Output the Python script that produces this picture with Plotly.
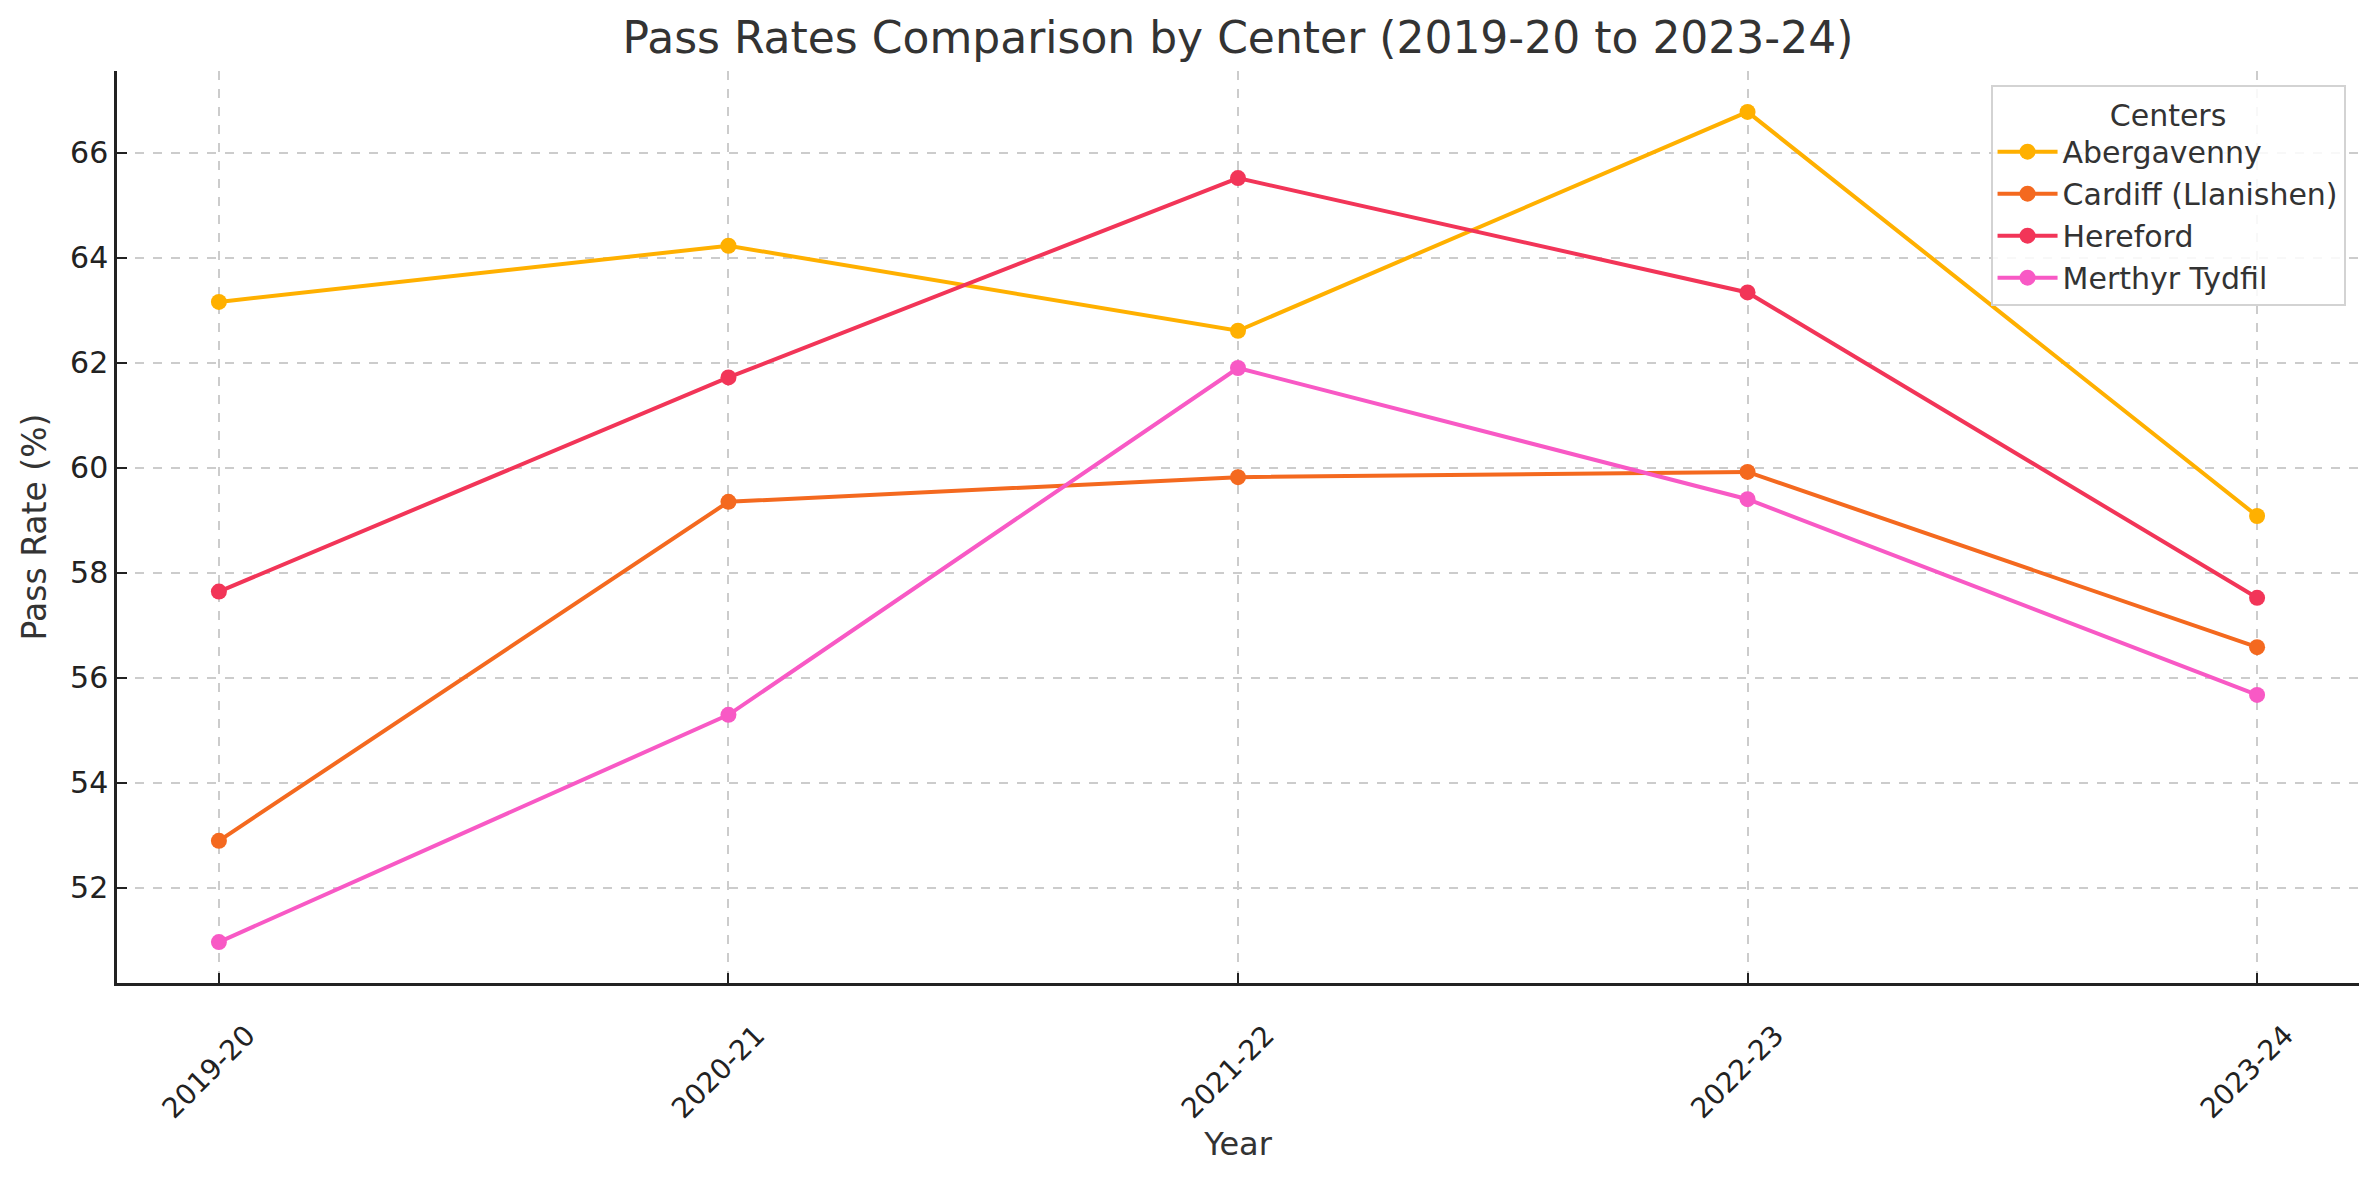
import plotly.graph_objects as go

years = ["2019-20", "2020-21", "2021-22", "2022-23", "2023-24"]
abergavenny = [63.16, 64.23, 62.61, 66.78, 59.08]
cardiff = [52.89, 59.35, 59.82, 59.92, 56.58]
hereford = [57.64, 61.72, 65.52, 63.34, 57.52]
merthyr = [50.96, 55.29, 61.90, 59.40, 55.67]

series = [
    ("Abergavenny", abergavenny, "#FFB000"),
    ("Cardiff (Llanishen)", cardiff, "#F4691F"),
    ("Hereford", hereford, "#F23558"),
    ("Merthyr Tydfil", merthyr, "#F859C5"),
]

fig = go.Figure()
for name, vals, color in series:
    fig.add_trace(go.Scatter(
        x=years, y=vals, name=name, mode="lines+markers",
        line=dict(color=color, width=4),
        marker=dict(color=color, size=16),
    ))

W, H = 2371, 1172  # page body has an 8px margin
font_family = "DejaVu Sans"
fig.update_layout(
    width=W, height=H,
    paper_bgcolor="white", plot_bgcolor="white",
    margin=dict(l=109, r=20, t=63, b=197),
    font=dict(family=font_family, color="#333333", size=26),
    title=dict(text="Pass Rates Comparison by Center (2019-20 to 2023-24)",
               x=(1238 - 8) / W, xanchor="center", y=1 - 30 / H, yanchor="middle",
               font=dict(size=44, color="#333333")),
    legend=dict(
        title=dict(text="Centers", side="top center", font=dict(size=30, color="#333333")),
        x=0.994, xanchor="right", y=0.985, yanchor="top",
        bgcolor="rgba(255,255,255,0.85)", bordercolor="#d3d3d3", borderwidth=2,
        font=dict(size=30, color="#333333"),
        itemwidth=60, tracegroupgap=2,
    ),
    showlegend=True,
)
fig.update_xaxes(
    type="category", range=[-0.2, 4.2],
    title=dict(text="Year", font=dict(size=32, color="#333333"), standoff=0),
    tickangle=-45, tickfont=dict(size=28, color="#222222"),
    ticklabelshift=28, ticklabelstandoff=22,
    showline=True, linecolor="#222222", linewidth=2.5, mirror=False,
    ticks="inside", ticklen=10, tickwidth=2, tickcolor="#222222",
    showgrid=True, gridcolor="#cccccc", griddash="dash", gridwidth=1.5,
    zeroline=False,
)
fig.update_yaxes(
    range=[50.18, 67.56], dtick=2, tick0=52,
    title=dict(text="Pass Rate (%)", font=dict(size=33, color="#333333"), standoff=14),
    tickfont=dict(size=30, color="#222222"),
    showline=True, linecolor="#222222", linewidth=2.5, mirror=False,
    ticks="inside", ticklen=10, tickwidth=2, tickcolor="#222222",
    showgrid=True, gridcolor="#cccccc", griddash="dash", gridwidth=1.5,
    zeroline=False,
)

fig.write_html("out.html")
